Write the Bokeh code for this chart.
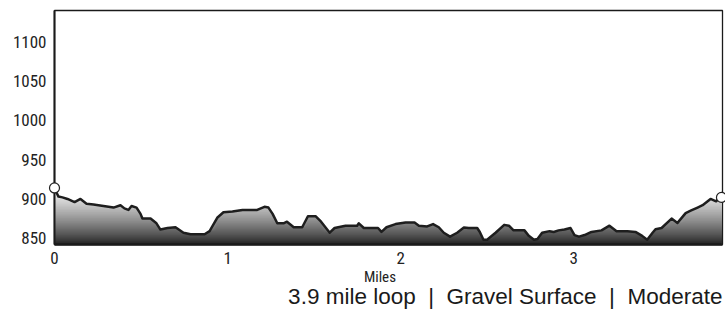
import numpy as np
from bokeh.plotting import figure
from bokeh.models import Range1d, FixedTicker
from bokeh.core.properties import value
from bokeh.embed import file_html
from bokeh.resources import INLINE

# Trail elevation profile (miles, feet)
miles = [0.000, 0.012, 0.023, 0.046, 0.075, 0.116, 0.150, 0.185, 0.225, 0.283,
         0.341, 0.381, 0.404, 0.427, 0.445, 0.474, 0.497, 0.508, 0.555, 0.589,
         0.612, 0.653, 0.699, 0.745, 0.786, 0.867, 0.896, 0.940, 0.976, 1.028,
         1.086, 1.171, 1.213, 1.236, 1.260, 1.287, 1.323, 1.343, 1.382, 1.431,
         1.464, 1.508, 1.540, 1.590, 1.618, 1.681, 1.748, 1.758, 1.787, 1.869,
         1.889, 1.918, 1.970, 2.028, 2.080, 2.105, 2.153, 2.187, 2.220, 2.249,
         2.285, 2.326, 2.365, 2.393, 2.442, 2.457, 2.478, 2.499, 2.548, 2.598,
         2.625, 2.652, 2.715, 2.740, 2.770, 2.790, 2.817, 2.860, 2.884, 2.912,
         2.946, 2.981, 3.004, 3.030, 3.062, 3.102, 3.160, 3.206, 3.247, 3.310,
         3.356, 3.395, 3.424, 3.455, 3.472, 3.507, 3.565, 3.599, 3.646, 3.675,
         3.715, 3.744, 3.790, 3.822, 3.838, 3.853]
elev = [914, 908, 903, 902, 900, 896, 900, 894, 893, 891,
        889, 892, 888, 886, 891, 889, 881, 875, 875, 869,
        861, 863, 864, 857, 855, 855, 859, 876, 883, 884,
        886, 886, 890, 889, 881, 869, 869, 871, 864, 864,
        878, 878, 871, 857, 863, 866, 866, 869, 863, 863,
        858, 864, 868, 870, 870, 866, 865, 868, 864, 857,
        852, 857, 863.5, 863, 863, 858, 848, 848, 857, 867,
        866, 860, 860, 853, 848, 849, 857, 859, 858, 860,
        861, 863, 854, 852, 854, 858, 860, 866, 859, 859,
        858, 853, 848, 857, 861.5, 863, 875, 869.5, 882, 885,
        889, 892, 900, 897, 901, 902]

x_ticks = [0, 1, 2, 3]
y_ticks = [850, 900, 950, 1000, 1050, 1100]
x_lim = (0, 3.859)
y_lim = (842, 1140)
axis_title = "Miles"
subtitle = "3.9 mile loop\u00a0 |\u00a0 Gravel Surface\u00a0 |\u00a0 Moderate"

NARROW = "'Roboto Condensed', 'DejaVu Sans Condensed', 'Liberation Sans'"

p = figure(width=725, height=310, output_backend="svg", toolbar_location=None,
           x_range=Range1d(*x_lim), y_range=Range1d(*y_lim),
           min_border_left=54, min_border_right=3, min_border_top=10,
           min_border_bottom=66)
p.background_fill_color = "white"
p.border_fill_color = "white"
p.outline_line_color = "#1a1a1a"
p.outline_line_width = 1.3
p.xgrid.visible = False
p.ygrid.visible = False

# gradient fill: stacked areas from each level up to the profile
e = np.array(elev, dtype=float)
lo_ft, top_ft = 842, 916
for lo in np.arange(lo_ft, top_ft, 0.5):
    y1 = np.minimum(e, lo)
    f = min(max((lo + 0.25 - lo_ft) / (910 - lo_ft), 0), 1)
    g = int(round(28 + 217 * f ** 0.8))
    p.varea(x=miles, y1=y1, y2=e, fill_color="#%02x%02x%02x" % (g, g, g))

p.line(miles, elev, line_width=2.5, line_color="#1e1e1e", line_join="round")
p.scatter([miles[0], miles[-1]], [elev[0], elev[-1]], size=10,
          fill_color="white", line_color="#222222", line_width=1.2,
          level="overlay")

for ax in (p.xaxis, p.yaxis):
    ax.major_tick_line_color = None
    ax.minor_tick_line_color = None
    ax.major_tick_out = 0
    ax.major_label_text_font = NARROW
    ax.major_label_text_font_size = "17px"
    ax.major_label_text_color = "#222222"
    ax.axis_line_color = "#1a1a1a"

p.xaxis.ticker = FixedTicker(ticks=x_ticks)
p.yaxis.ticker = FixedTicker(ticks=y_ticks)
p.xaxis.axis_line_width = 2.5
p.yaxis.axis_line_width = 2
p.xaxis.major_label_standoff = 7
p.yaxis.major_label_standoff = 8

p.text(x=[1.88], y=[800], text=[axis_title], text_align="center",
       text_baseline="middle", text_font=value(NARROW),
       text_font_size="15px", text_color="#222222", level="overlay")
p.text(x=[x_lim[1]], y=[775.5], text=[subtitle], text_align="right",
       text_baseline="middle", text_font=value("Liberation Sans"),
       text_font_size="22.5px", text_color="#1a1a1a", level="overlay")

open("out.html", "w").write(file_html(p, INLINE))
